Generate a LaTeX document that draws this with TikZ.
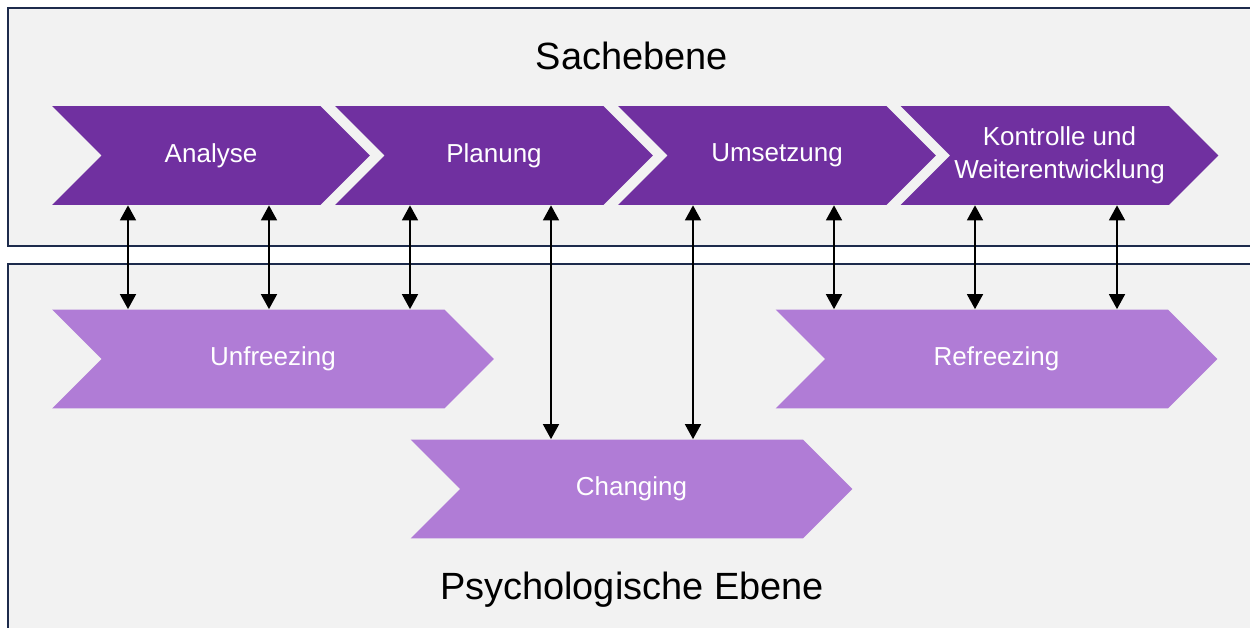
\documentclass[tikz,border=0pt]{standalone}
\usepackage{fontspec}
\setmainfont{Liberation Sans}
\usetikzlibrary{positioning,arrows.meta,shapes.symbols}
\definecolor{sachpurple}{HTML}{7030A0}
\definecolor{psypurple}{HTML}{B07CD6}
\definecolor{panelbg}{HTML}{F2F2F2}
\definecolor{panelline}{HTML}{1D2B4C}

\begin{document}
\begin{tikzpicture}[x=0.02cm,y=-0.02cm,
      panel/.style={draw=panelline,line width=1.1pt,fill=panelbg},
      chev/.style={signal,signal from=west,signal to=east,signal pointer angle=90,
        inner sep=0pt,minimum height=1.98cm,text=white,align=center,
        font=\fontsize{14.8}{19}\selectfont},
      sach/.style={chev,fill=sachpurple,minimum width=6.36cm},
      psy/.style={chev,fill=psypurple,minimum width=8.84cm},
      title/.style={font=\fontsize{21.6}{26}\selectfont},
      link/.style={{Triangle[length=8.5pt,width=9pt]}-{Triangle[length=8.5pt,width=9pt]},line width=1.1pt}]

    \useasboundingbox (0,0) rectangle (1250,628);
    \path[panel] (8,8) rectangle (1262,246);
    \path[panel] (8,264) rectangle (1262,642);

    \node[title] (sachtitle) at (632,56) {Sachebene};
    \node[title] (psytitle) at (632,590) {Psychologische Ebene};

    % Sachebene
    \node[sach] (ana) at (211,155.5) {Analyse};
    \node[sach] (plan) at (494,155.5) {Planung};
    \node[sach] (ums) at (777,155.5) {Umsetzung};
    \node[sach] (kon) at (1059.5,155.5) {Kontrolle und\\Weiterentwicklung};

    % Psychologische Ebene
    \node[psy] (unf) at (273,359) {Unfreezing};
    \node[psy] (chg) at (631.5,489) {Changing};
    \node[psy] (ref) at (996.5,359) {Refreezing};

    \coordinate (a1) at (128,0);
    \coordinate (a2) at (269,0);
    \coordinate (a3) at (410,0);
    \coordinate (a4) at (551,0);
    \coordinate (a5) at (693,0);
    \coordinate (a6) at (834,0);
    \coordinate (a7) at (975,0);
    \coordinate (a8) at (1117,0);

    \draw[link] (ana.south -| a1) -- (unf.north -| a1);
    \draw[link] (ana.south -| a2) -- (unf.north -| a2);
    \draw[link] (plan.south -| a3) -- (unf.north -| a3);
    \draw[link] (plan.south -| a4) -- (chg.north -| a4);
    \draw[link] (ums.south -| a5) -- (chg.north -| a5);
    \draw[link] (ums.south -| a6) -- (ref.north -| a6);
    \draw[link] (kon.south -| a7) -- (ref.north -| a7);
    \draw[link] (kon.south -| a8) -- (ref.north -| a8);
  \end{tikzpicture}
\end{document}
